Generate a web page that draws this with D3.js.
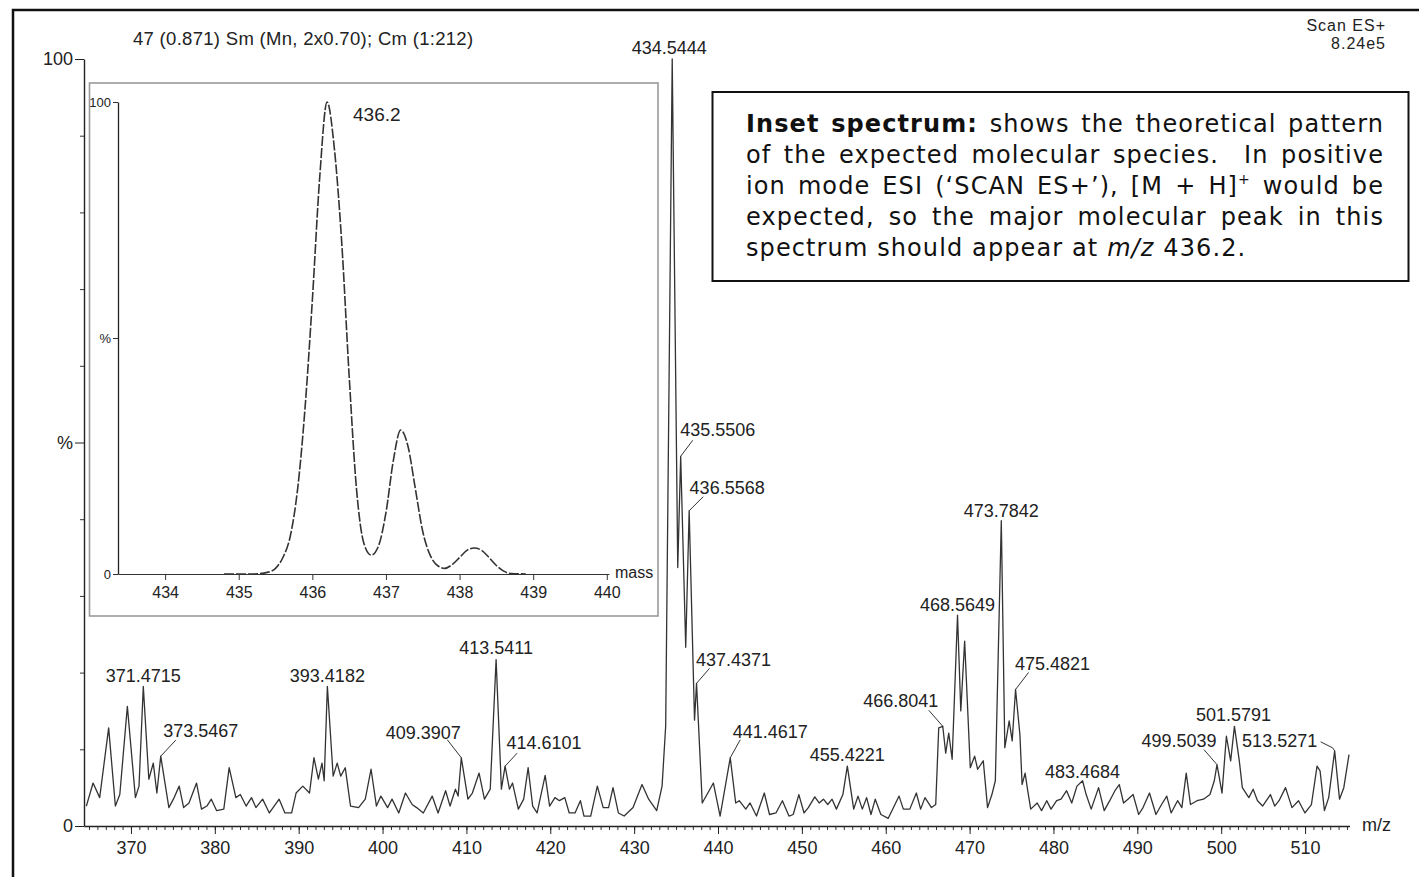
<!DOCTYPE html>
<html>
<head>
<meta charset="utf-8">
<script src="https://cdn.jsdelivr.net/npm/d3@7"></script>
<style>
  body { margin: 0; background: #fff; }
  text { font-family: "Liberation Sans", Arial, sans-serif; fill: #222; }
  .note { font-family: "DejaVu Sans", Verdana, sans-serif; font-size: 24px; letter-spacing: 1.1px; fill: #111; }
  .narrow { font-family: "Liberation Sans Narrow", "Arial Narrow", "Liberation Sans", sans-serif; }
</style>
</head>
<body>
<svg id="chart" width="1419" height="877"></svg>
<script>
// main spectrum, m/z and relative intensity (%)
const specMz = [364.68, 365.48, 366.27, 367.34, 368.14, 368.67, 369.57, 370.53, 370.96, 371.47,
  372.13, 372.66, 373.09, 373.55, 374.52, 375.06, 375.75, 376.28, 376.92, 377.82,
  378.41, 379.05, 379.58, 380.22, 381.07, 381.71, 382.51, 383.04, 383.73, 384.37,
  384.9, 385.7, 386.5, 387.67, 388.36, 389.16, 389.69, 390.49, 391.29, 391.82,
  392.35, 392.78, 393.04, 393.42, 394.11, 394.59, 395.01, 395.55, 396.18, 397.14,
  397.94, 398.63, 399.27, 399.8, 400.6, 401.13, 401.93, 402.73, 403.53, 404.06,
  404.86, 405.92, 406.62, 407.52, 408.05, 408.69, 409.01, 409.39, 410.18, 410.71,
  411.51, 412.15, 412.84, 413.54, 414.17, 414.61, 415.13, 415.5, 416.19, 416.83,
  417.36, 417.9, 418.43, 419.39, 419.92, 420.56, 421.09, 421.73, 422.26, 422.95,
  423.59, 424.02, 424.82, 425.61, 426.31, 426.95, 427.48, 428.12, 428.81, 429.87,
  430.94, 431.73, 432.69, 433.33, 433.76, 434.54, 435.2, 435.55, 436.15, 436.56,
  437.2, 437.44, 438.12, 439.45, 440.25, 441.46, 442.11, 442.53, 443.31, 443.82,
  444.59, 445.52, 446.14, 446.91, 447.68, 448.46, 448.97, 449.64, 450.26, 450.77,
  451.54, 452.06, 452.57, 453.09, 453.6, 454.12, 454.89, 455.42, 456.18, 456.69,
  457.21, 457.72, 458.24, 458.75, 459.42, 460.3, 461.59, 462.1, 462.87, 463.65,
  464.16, 464.68, 465.45, 465.96, 466.32, 466.8, 467.15, 467.51, 467.92, 468.56,
  468.95, 469.41, 470.08, 470.6, 470.96, 471.63, 472.14, 472.66, 473.07, 473.78,
  474.2, 474.72, 475.08, 475.48, 476.0, 476.26, 476.62, 476.93, 477.29, 478.06,
  478.58, 479.2, 479.71, 480.38, 480.9, 481.57, 482.18, 482.8, 483.47, 483.9,
  484.5, 485.38, 486.05, 486.71, 487.33, 487.85, 488.36, 488.88, 489.5, 490.16,
  490.68, 491.45, 492.22, 492.89, 493.51, 494.03, 494.8, 495.31, 495.83, 496.34,
  497.12, 497.89, 498.66, 499.18, 499.5, 500.1, 500.62, 501.13, 501.58, 502.16,
  502.52, 503.3, 503.81, 504.33, 504.94, 505.87, 506.38, 506.9, 507.67, 508.44,
  509.22, 509.99, 510.76, 511.43, 511.79, 512.31, 512.82, 513.53, 514.11, 514.62,
  515.24];
const specInt = [2.6, 5.6, 3.7, 12.8, 2.6, 4.1, 15.6, 3.7, 5.2, 18.2,
  6.1, 8.2, 4.3, 9.1, 2.4, 3.5, 5.2, 2.4, 3.0, 5.6,
  2.2, 2.6, 3.5, 2.0, 2.2, 7.6, 3.7, 4.1, 2.6, 3.7,
  2.4, 3.5, 1.7, 3.5, 1.7, 1.7, 4.3, 5.2, 4.3, 8.9,
  6.1, 8.2, 5.9, 18.2, 6.5, 8.2, 6.5, 7.6, 2.6, 2.4,
  3.5, 7.4, 2.6, 3.9, 2.4, 3.5, 1.7, 4.3, 2.8, 2.4,
  1.7, 3.9, 1.7, 4.6, 2.6, 4.8, 3.9, 8.9, 3.5, 4.3,
  6.9, 3.5, 4.8, 21.7, 4.8, 7.8, 4.8, 5.6, 2.2, 3.5,
  7.6, 2.6, 1.7, 6.6, 2.6, 3.7, 3.3, 3.7, 1.7, 1.7,
  3.3, 1.3, 1.3, 5.2, 2.4, 2.4, 5.0, 1.7, 1.3, 2.4,
  5.4, 3.5, 2.0, 5.2, 13.0, 100, 33.7, 48.2, 23.3, 41.1,
  13.8, 18.6, 3.0, 5.6, 1.3, 8.9, 3.0, 3.3, 2.2, 3.0,
  1.3, 4.3, 1.5, 1.7, 3.3, 1.3, 1.5, 4.1, 1.7, 2.4,
  3.8, 3.0, 3.5, 2.8, 3.5, 2.2, 4.1, 7.8, 2.2, 3.9,
  2.2, 3.7, 1.5, 3.5, 1.5, 1.0, 3.9, 2.2, 2.2, 4.3,
  2.2, 3.7, 2.4, 2.8, 12.8, 13.0, 9.5, 12.1, 8.7, 27.5,
  15.0, 24.1, 7.6, 9.1, 7.4, 8.5, 2.4, 4.1, 5.9, 39.8,
  10.2, 13.7, 11.1, 17.8, 11.9, 5.4, 6.9, 4.6, 2.2, 3.0,
  2.0, 3.3, 2.2, 3.3, 3.5, 4.6, 3.0, 5.2, 5.9, 4.1,
  2.2, 5.0, 2.0, 3.3, 4.6, 5.4, 3.0, 3.5, 4.1, 1.5,
  2.4, 4.3, 1.5, 2.8, 3.9, 1.7, 3.3, 2.4, 6.9, 2.8,
  3.3, 3.5, 4.1, 5.9, 8.0, 4.3, 11.7, 8.5, 13.0, 8.5,
  5.0, 3.7, 4.8, 3.3, 2.6, 4.1, 2.6, 3.3, 5.0, 2.4,
  3.3, 1.7, 2.8, 7.8, 7.2, 2.0, 3.7, 9.8, 3.5, 5.0,
  9.3];

// labelled peaks
const labelMz = [371.47, 373.55, 393.42, 409.39, 413.54, 414.61, 434.54, 435.55, 436.56, 437.44,
  441.46, 455.42, 466.8, 468.56, 473.78, 475.48, 483.47, 499.5, 501.58, 513.53];
const labelInt = [18.2, 9.1, 18.2, 8.9, 21.7, 7.8, 100, 48.2, 41.1, 18.6,
  8.9, 7.8, 13.0, 27.5, 39.8, 17.8, 5.9, 8.0, 13.0, 9.8];
const labelText = ['371.4715', '373.5467', '393.4182', '409.3907', '413.5411', '414.6101', '434.5444',
  '435.5506', '436.5568', '437.4371', '441.4617', '455.4221', '466.8041', '468.5649', '473.7842',
  '475.4821', '483.4684', '499.5039', '501.5791', '513.5271'];

// inset: theoretical isotope pattern
const insetMz = [434.8, 435.2, 435.4, 435.5, 435.6, 435.7, 435.8, 435.9, 436.0, 436.1, 436.2, 436.3,
  436.4, 436.5, 436.6, 436.7, 436.8, 436.9, 437.0, 437.1, 437.2, 437.3, 437.4, 437.5, 437.6, 437.7,
  437.8, 437.9, 438.0, 438.1, 438.2, 438.3, 438.4, 438.5, 438.6, 438.7, 438.9];
const insetInt = [0, 0, 0.4, 1.2, 3.5, 8, 18, 35, 58, 84, 100, 90,
  70, 42, 18, 6.5, 4, 6, 13, 24, 30.5, 27, 18, 9, 4, 1.8,
  1.2, 2, 3.5, 5, 5.5, 5, 3.5, 1.8, 0.6, 0.1, 0];

const xTicks = [370, 380, 390, 400, 410, 420, 430, 440, 450, 460, 470, 480, 490, 500, 510];
const insetTicks = [434, 435, 436, 437, 438, 439, 440];

const noteLines = [
  ['**Inset', '**spectrum:', 'shows', 'the', 'theoretical', 'pattern'],
  ['of', 'the', 'expected', 'molecular', 'species.', '', 'In', 'positive'],
  ['ion', 'mode', 'ESI', '(\u2018SCAN', 'ES+\u2019),', '[M', '+', 'H]^+', 'would', 'be'],
  ['expected,', 'so', 'the', 'major', 'molecular', 'peak', 'in', 'this'],
  ['spectrum', 'should', 'appear', 'at', '_m/z', '436.2.']
];

// label placement relative to the peak (pixels): text centre dx, baseline dy, optional leader
const labelLayout = [
  {dx: 0, dy: -4}, {dx: 40, dy: -19, lead: [[15, -16], [0, 0]]},
  {dx: 0, dy: -4}, {dx: -38, dy: -19, lead: [[-14, -18], [0, 0]]},
  {dx: 0, dy: -6}, {dx: 39, dy: -17, lead: [[12, -13], [0, 0]]},
  {dx: -3, dy: -5},
  {dx: 37, dy: -20, lead: [[12, -16], [0, 0]]}, {dx: 38, dy: -17, lead: [[14, -14], [0, 0]]},
  {dx: 37, dy: -17, lead: [[13, -15], [0, 0]]}, {dx: 40, dy: -20, lead: [[10, -18], [0, 0]]},
  {dx: 0, dy: -5}, {dx: -42, dy: -19, lead: [[-14, -16], [0, 0]]},
  {dx: 0, dy: -4}, {dx: 0, dy: -4}, {dx: 37, dy: -19, lead: [[13, -17], [0, 0]]},
  {dx: 0, dy: -3}, {dx: -38, dy: -18, lead: [[-13, -15], [0, 0]]},
  {dx: -1, dy: -5}, {dx: -55, dy: -4, lead: [[-14, -9], [-2, -3], [0, 0]]}
];

const svg = d3.select('#chart');

// figure frame
svg.append('rect')
  .attr('x', 13).attr('y', 10).attr('width', 1500).attr('height', 1000)
  .attr('fill', 'none').attr('stroke', '#111').attr('stroke-width', 2.5);

const x = d3.scaleLinear().domain([364.4, 515.3]).range([84, 1349.5]);
const y = d3.scaleLinear().domain([0, 100]).range([826, 59]);

// x axis: minor ticks every unit, labelled every 10
const gxMinor = svg.append('g').attr('transform', 'translate(0,826)')
  .call(d3.axisBottom(x).tickValues(d3.range(365, 516)).tickSize(4).tickFormat(''));
gxMinor.select('.domain').remove();
gxMinor.selectAll('line').attr('stroke', '#333');

const gx = svg.append('g').attr('transform', 'translate(0,826)')
  .call(d3.axisBottom(x).tickValues(xTicks).tickSize(8).tickSizeOuter(0).tickPadding(7));
gx.attr('font-size', 18).attr('font-family', null);
gx.select('.domain').attr('stroke', '#222').attr('stroke-width', 1.4);
gx.selectAll('line').attr('stroke', '#222');
gx.selectAll('text').attr('fill', '#222');

svg.append('text').attr('x', 1362).attr('y', 831).attr('font-size', 18).text('m/z');

// y axis
const gyMinor = svg.append('g').attr('transform', 'translate(84,0)')
  .call(d3.axisLeft(y).tickValues([10, 20, 30, 40, 60, 70, 80, 90]).tickSize(4).tickFormat(''));
gyMinor.select('.domain').remove();
gyMinor.selectAll('line').attr('stroke', '#333');

const gy = svg.append('g').attr('transform', 'translate(84,0)')
  .call(d3.axisLeft(y).tickValues([0, 50, 100]).tickSize(9).tickSizeOuter(0).tickPadding(2)
    .tickFormat(d => d === 50 ? '%' : d));
gy.attr('font-size', 18).attr('font-family', null);
gy.select('.domain').attr('stroke', '#222').attr('stroke-width', 1.4);
gy.selectAll('line').attr('stroke', '#222');
gy.selectAll('text').attr('fill', '#222');

// spectrum trace
const specData = specMz.map((m, i) => [m, specInt[i]]);
svg.append('path')
  .datum(specData)
  .attr('fill', 'none')
  .attr('stroke', '#333')
  .attr('stroke-width', 1.3)
  .attr('stroke-linejoin', 'round')
  .attr('d', d3.line().x(d => x(d[0])).y(d => y(d[1])));

// peak labels
labelText.forEach((t, i) => {
  const px = x(labelMz[i]), py = y(labelInt[i]);
  const L = labelLayout[i];
  svg.append('text')
    .attr('x', px + L.dx).attr('y', py + L.dy)
    .attr('text-anchor', 'middle').attr('font-size', 18)
    .text(t);
  if (L.lead) {
    svg.append('path')
      .attr('fill', 'none').attr('stroke', '#333').attr('stroke-width', 1)
      .attr('d', d3.line()(L.lead.map(p => [px + p[0], py + p[1]])));
  }
});

// header texts
svg.append('text').attr('x', 133).attr('y', 45).attr('font-size', 18.5)
  .attr('letter-spacing', 0.3)
  .text('47 (0.871) Sm (Mn, 2x0.70); Cm (1:212)');
svg.append('text').attr('x', 1386).attr('y', 30.5).attr('font-size', 16)
  .attr('letter-spacing', 1).attr('text-anchor', 'end').text('Scan ES+');
svg.append('text').attr('x', 1386).attr('y', 48.5).attr('font-size', 16)
  .attr('letter-spacing', 1).attr('text-anchor', 'end').text('8.24e5');

// inset spectrum
const inset = svg.append('g');
inset.append('rect')
  .attr('x', 89.5).attr('y', 83).attr('width', 568.5).attr('height', 533)
  .attr('fill', '#fff').attr('stroke', '#9a9a9a').attr('stroke-width', 1.6);

const xi = d3.scaleLinear().domain([433.36, 440.03]).range([118, 609]);
const yi = d3.scaleLinear().domain([0, 100]).range([574, 102]);

const gxi = inset.append('g').attr('transform', 'translate(0,574)')
  .call(d3.axisBottom(xi).tickValues(insetTicks).tickSize(6).tickSizeOuter(0).tickPadding(7)
    .tickFormat(d3.format('d')));
gxi.attr('font-size', 16).attr('font-family', null).attr('class', 'narrow');
gxi.select('.domain').attr('stroke', '#333').attr('stroke-width', 1.2);
gxi.selectAll('line').attr('stroke', '#333');
gxi.selectAll('text').attr('fill', '#333');

const gyi = inset.append('g').attr('transform', 'translate(118,0)')
  .call(d3.axisLeft(yi).tickValues([0, 50, 100]).tickSize(5).tickSizeOuter(0).tickPadding(2)
    .tickFormat(d => d === 50 ? '%' : d));
gyi.attr('font-size', 13).attr('font-family', null).attr('class', 'narrow');
gyi.select('.domain').attr('stroke', '#222').attr('stroke-width', 1.3);
gyi.selectAll('line').attr('stroke', '#333');
gyi.selectAll('text').attr('fill', '#333');

inset.append('text').attr('class', 'narrow').attr('x', 615).attr('y', 578)
  .attr('font-size', 16).attr('fill', '#333').text('mass');

inset.append('path')
  .datum(insetMz.map((m, i) => [m, insetInt[i]]))
  .attr('fill', 'none').attr('stroke', '#333').attr('stroke-width', 1.6)
  .attr('stroke-dasharray', '10,2')
  .attr('d', d3.line().curve(d3.curveMonotoneX).x(d => xi(d[0])).y(d => yi(d[1])));

inset.append('text').attr('x', 353).attr('y', 121).attr('font-size', 19).text('436.2');

// annotation box with justified text
const note = svg.append('g');
note.append('rect')
  .attr('x', 712.5).attr('y', 92).attr('width', 696).attr('height', 189)
  .attr('fill', '#fff').attr('stroke', '#111').attr('stroke-width', 2);

const noteLeft = 746, noteRight = 1384;
function wordNode(w) {
  const t = note.append('text').attr('class', 'note');
  let s = w, bold = false, ital = false;
  if (s.startsWith('**')) { bold = true; s = s.slice(2); }
  if (s.startsWith('_')) { ital = true; s = s.slice(1); }
  const parts = s.split('^');
  const main = t.append('tspan').text(parts[0]);
  if (bold) main.attr('font-weight', 'bold');
  if (ital) main.attr('font-style', 'italic');
  if (parts[1]) t.append('tspan').text(parts[1]).attr('font-size', 14).attr('dy', -10);
  return t;
}
noteLines.forEach((line, li) => {
  const by = 131.5 + li * 31;
  const words = line.filter(w => w !== '');
  // an empty entry marks a doubled space
  const gaps = [];
  for (let i = 1, w = 1; i < line.length; i++) {
    if (line[i] === '') { w = 2; continue; }
    gaps.push(w); w = 1;
  }
  const nodes = words.map(wordNode);
  const widths = nodes.map(n => n.node().getComputedTextLength());
  const total = d3.sum(widths);
  const last = li === noteLines.length - 1;
  const unit = last ? 8.8 : (noteRight - noteLeft - total) / d3.sum(gaps);
  let cx = noteLeft;
  nodes.forEach((n, i) => {
    n.attr('x', cx).attr('y', by);
    n.selectAll('tspan').filter((d, j) => j === 0).attr('x', cx);
    cx += widths[i] + (i < gaps.length ? gaps[i] * unit : 0);
  });
});
</script>
</body>
</html>
